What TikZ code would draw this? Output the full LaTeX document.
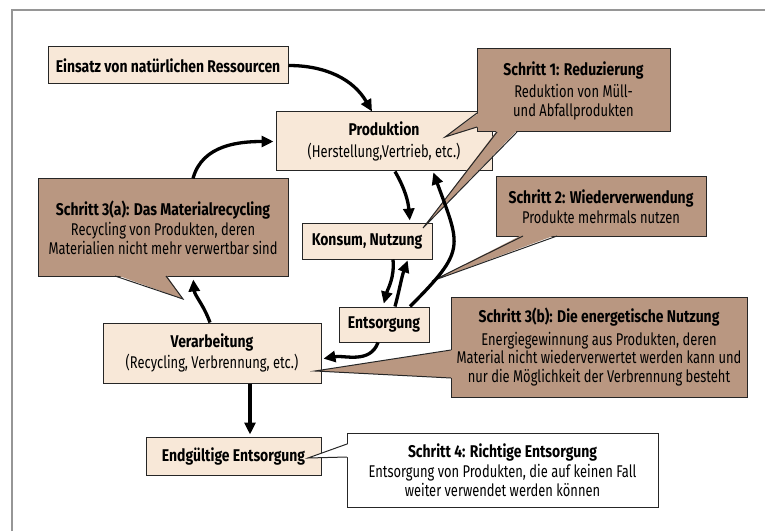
\documentclass[tikz,border=0pt]{standalone}
\usepackage{fontspec}
\setmainfont{Fira Sans}[UprightFeatures={FakeStretch=0.76},BoldFeatures={FakeStretch=0.82}]
\usepackage{tikz}
\usetikzlibrary{positioning,arrows.meta,calc}
\definecolor{stagefill}{RGB}{248,232,216}
\definecolor{stepfill}{RGB}{185,151,129}
\definecolor{framegray}{RGB}{150,150,150}
\tikzset{
  stage/.style={draw=black!85,fill=stagefill,line width=1pt,inner sep=0pt,align=center,font=\fontsize{17}{18.5}\selectfont},
  stepbox/.style={stage,fill=stepfill},
  flow/.style={line width=3.3pt,-{Triangle[length=12pt,width=11pt]}},
}

\begin{document}
\begin{tikzpicture}[x=1pt,y=1pt]
  \useasboundingbox (0,0) rectangle (765,531);
  \draw[framegray,line width=1.5pt] (12,0)--(12,521)--(765,521);
  % stages of the cycle
  \node[stage,minimum width=240pt,minimum height=37pt] (ein) at (168,465.5) {\textbf{Einsatz von natürlichen Ressourcen}};
  \node[stage,minimum width=216pt,minimum height=59pt] (prod) at (384,389.5) {\textbf{Produktion}\\[3pt](Herstellung,Vertrieb, etc.)};
  \node[stage,minimum width=130pt,minimum height=36pt] (kons) at (367,290) {\textbf{Konsum, Nutzung}};
  \node[stage,minimum width=90pt,minimum height=35pt] (ents) at (384,206.5) {\textbf{Entsorgung}};
  \node[stage,minimum width=218pt,minimum height=60pt] (verarb) at (212,178) {\textbf{Verarbeitung}\\[3pt](Recycling, Verbrennung, etc.)};
  \node[stage,minimum width=175pt,minimum height=38pt] (endg) at (233.5,75) {\textbf{Endgültige Entsorgung}};
  % steps (callouts)
  \node[stepbox,minimum width=193pt,minimum height=83pt] (s1) at (573.5,440.5) {\textbf{Schritt 1: Reduzierung}\\[4pt]Reduktion von Müll-\\und Abfallprodukten};
  \node[stepbox,minimum width=210pt,minimum height=59pt] (s2) at (601,324.5) {\textbf{Schritt 2: Wiederverwendung}\\[2pt]Produkte mehrmals nutzen};
  \node[stepbox,minimum width=250pt,minimum height=97pt] (s3a) at (163,303.5) {\textbf{Schritt 3(a): Das Materialrecycling}\\[2pt]Recycling von Produkten, deren\\Materialien nicht mehr verwertbar sind};
  \node[stepbox,minimum width=296pt,minimum height=100pt] (s3b) at (599,184) {\textbf{Schritt 3(b): Die energetische Nutzung}\\[4pt]Energiegewinnung aus Produkten, deren\\Material nicht wiederverwertet werden kann und\\nur die Möglichkeit der Verbrennung besteht};
  \node[stage,fill=white,minimum width=311pt,minimum height=74pt] (s4) at (502.5,61) {\textbf{Schritt 4: Richtige Entsorgung}\\[2pt]Entsorgung von Produkten, die auf keinen Fall\\weiter verwendet werden können};
  % pointers
  \fill[stepfill] (478.5,418)--(445,394)--(478.5,404)--cycle;
  \draw[black!85,line width=1pt] (477,418)--(445,394)--(477,404);
  \fill[stepfill] (497,400.5)--(423,303)--(517,400.5)--cycle;
  \draw[black!85,line width=1pt] (497,399)--(423,303)--(517,399);
  \fill[stepfill] (523,296.5)--(432,250)--(557,296.5)--cycle;
  \draw[black!85,line width=1pt] (523,295)--(432,250)--(557,295);
  \fill[stepfill] (115,256.5)--(183,232)--(166,256.5)--cycle;
  \draw[black!85,line width=1pt] (115,255)--(183,232)--(166,255);
  \fill[stepfill] (452.5,181)--(315,160)--(452.5,153)--cycle;
  \draw[black!85,line width=1pt] (451,181)--(315,160)--(451,153);
  \fill[white] (348.5,87)--(308,73)--(348.5,74)--cycle;
  \draw[black!85,line width=1pt] (347,87)--(308,73)--(347,74);
  % flow arrows
  \draw[flow] (ein.east) to[out=0,in=120] ([xshift=-12pt]prod.north);
  \draw[flow,shorten >=2pt] ([xshift=30pt]s3a.north) to[out=75,in=180] (prod.west);
  \draw[flow,shorten >=2pt] ([xshift=11pt]prod.south) to[out=-60,in=95] ([xshift=43pt]kons.north);
  \draw[flow,shorten >=1pt] ([xshift=26pt]ents.north) to[out=45,in=-70,looseness=1.5] ([xshift=49pt]prod.south);
  \draw[flow,shorten >=3pt] ([xshift=26pt]kons.south) to[out=-85,in=75] ([xshift=-1pt]ents.north);
  \draw[flow,shorten >=1pt] ([xshift=11pt]ents.north) to[out=75,in=-110] ([xshift=41pt]kons.south);
  \draw[flow,shorten >=2pt] ([xshift=-6pt]ents.south) to[out=-110,in=10] ([yshift=-6pt]verarb.east);
  \draw[flow,shorten >=3pt] ([xshift=-2pt]verarb.north) to[out=110,in=-85] ([xshift=30pt]s3a.south);
  \draw[flow,shorten >=2pt] ([xshift=38pt]verarb.south) -- ([xshift=16.5pt]endg.north);
\end{tikzpicture}
\end{document}
